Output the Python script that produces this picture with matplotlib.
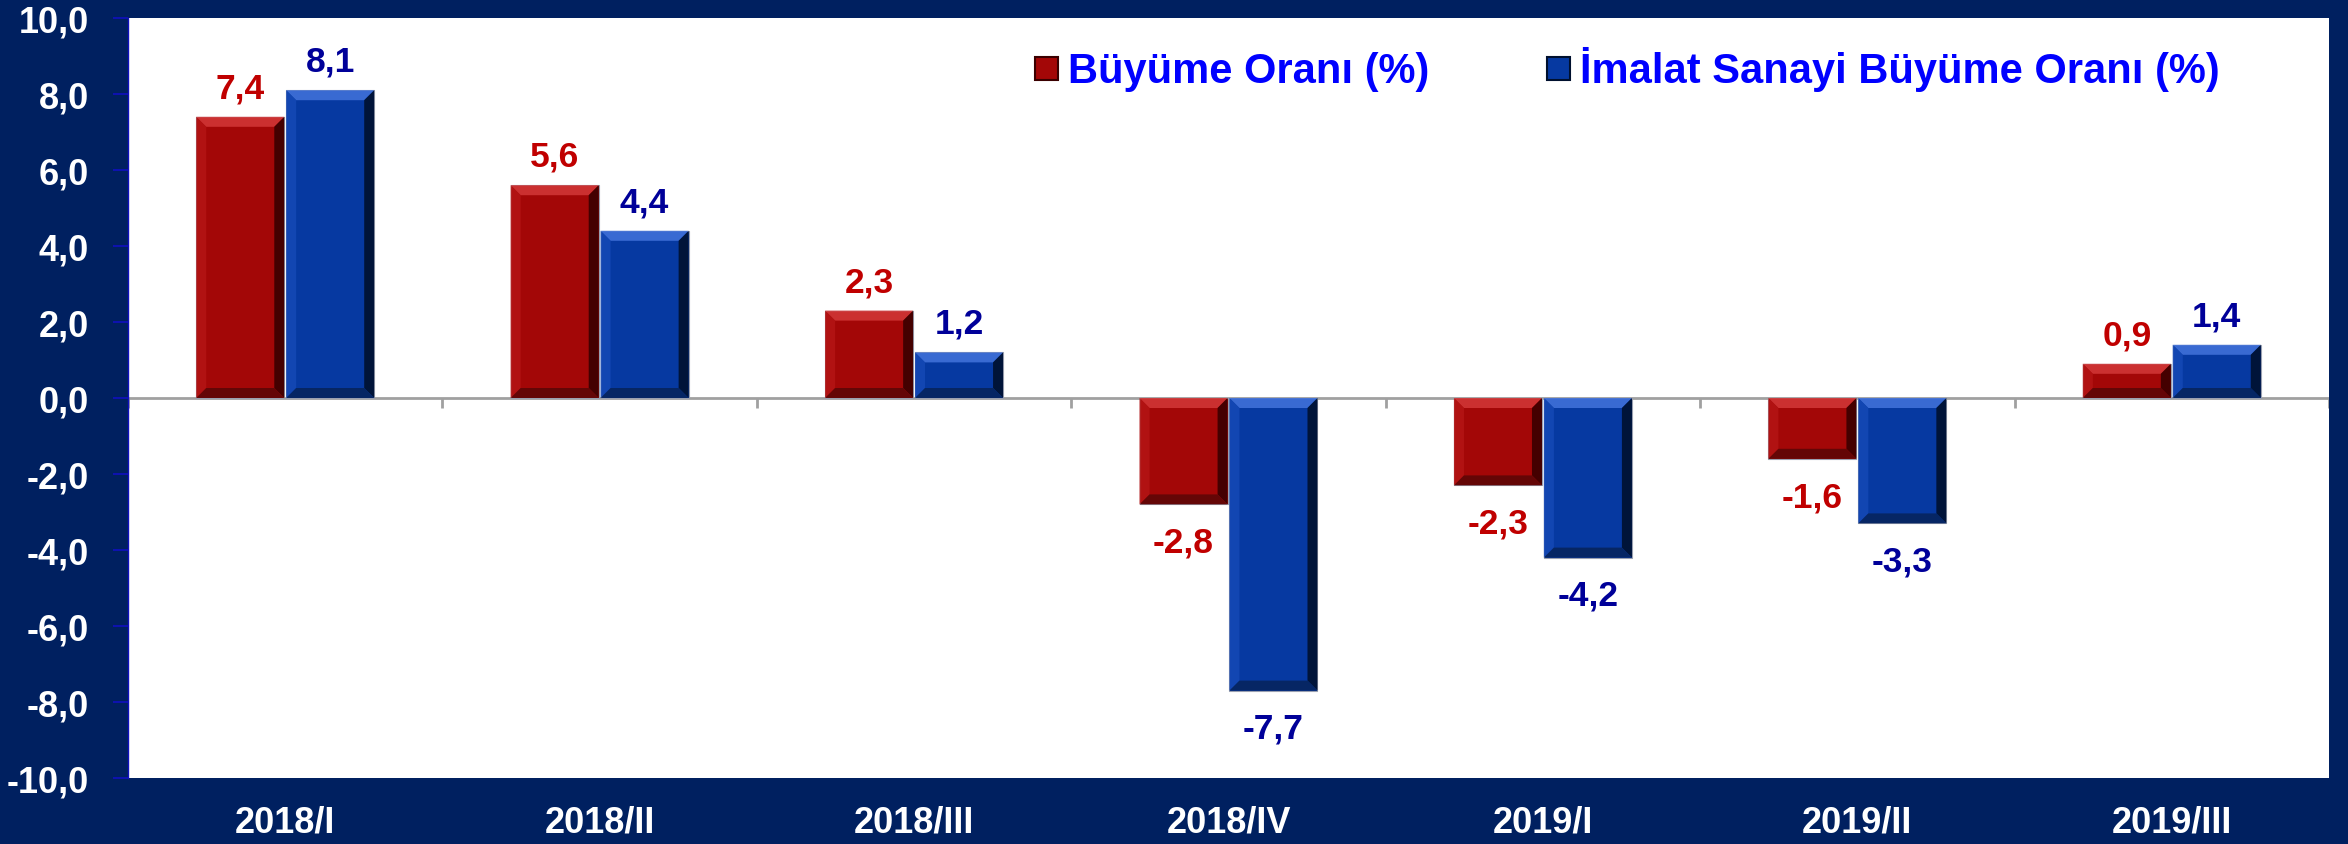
import numpy as np
import matplotlib
matplotlib.use('Agg')
import matplotlib.pyplot as plt
from matplotlib.patches import Polygon, Rectangle

# veriler
donemler = ['2018/I', '2018/II', '2018/III', '2018/IV', '2019/I', '2019/II', '2019/III']
buyume = [7.4, 5.6, 2.3, -2.8, -2.3, -1.6, 0.9]
imalat = [8.1, 4.4, 1.2, -7.7, -4.2, -3.3, 1.4]
seri_adlari = ['Büyüme Oranı (%)', 'İmalat Sanayi Büyüme Oranı (%)']
y_ticks = [-10, -8, -6, -4, -2, 0, 2, 4, 6, 8, 10]

plt.rcParams['font.family'] = ['Liberation Sans', 'DejaVu Sans']
plt.rcParams['font.weight'] = 'bold'

lacivert = '#002060'
# ana renk, ust, sol, sag, alt kenar
kirmizi = ['#a30707', '#d03535', '#b31414', '#3a0000', '#5e0606']
mavi = ['#0639a1', '#3f70d8', '#1448b5', '#00102e', '#07245e']

fig = plt.figure(figsize=(23.48, 8.45), dpi=100, facecolor=lacivert)
ax = fig.add_axes([128/2348, 1-779/845, (2329-128)/2348, (779-19)/845])
ax.set_facecolor('white')
ax.set_xlim(-0.5, len(donemler)-0.5)
ax.set_ylim(-10, 10)

# bir pikselin veri birimi karsiligi (kenar efekti icin)
ax_w = ax.get_position().width * fig.get_figwidth() * fig.dpi
ax_h = ax.get_position().height * fig.get_figheight() * fig.dpi
px_x = (ax.get_xlim()[1] - ax.get_xlim()[0]) / ax_w
px_y = (ax.get_ylim()[1] - ax.get_ylim()[0]) / ax_h
kenar = 10

x = np.arange(len(donemler))
genislik = 0.28
kayma = 0.143


def cubuk_ciz(xc, v, renkler):
    x0, x1 = xc - genislik/2, xc + genislik/2
    yb, yt = min(0, v), max(0, v)
    bx = min(kenar*px_x, genislik/2)
    by = min(kenar*px_y, (yt-yb)/2)
    ax.add_patch(Rectangle((x0, yb), genislik, yt-yb, facecolor=renkler[0],
                           edgecolor='#9aa0b0', linewidth=0.8, zorder=3))
    ust = [(x0, yt), (x1, yt), (x1-bx, yt-by), (x0+bx, yt-by)]
    sol = [(x0, yt), (x0, yb), (x0+bx, yb+by), (x0+bx, yt-by)]
    sag = [(x1, yt), (x1, yb), (x1-bx, yb+by), (x1-bx, yt-by)]
    alt = [(x0, yb), (x1, yb), (x1-bx, yb+by), (x0+bx, yb+by)]
    for pts, r in zip([ust, sol, sag, alt], renkler[1:]):
        ax.add_patch(Polygon(pts, closed=True, facecolor=r, edgecolor='none',
                             alpha=0.9, zorder=4))


for i in range(len(donemler)):
    cubuk_ciz(x[i]-kayma, buyume[i], kirmizi)
    cubuk_ciz(x[i]+kayma, imalat[i], mavi)

# deger etiketleri
for xs, vals, renk in [(x-kayma, buyume, '#c00000'), (x+kayma, imalat, '#000099')]:
    for xi, v in zip(xs, vals):
        off = 14 if v >= 0 else -34
        ax.annotate(f'{v:.1f}'.replace('.', ','), (xi, v), xytext=(0, off),
                    textcoords='offset points', ha='center', va='baseline',
                    fontsize=25.5, fontweight='bold', color=renk, zorder=5)

# sifir cizgisi ve kategori ayirici cizgiler
ax.axhline(0, color='#a0a0a0', linewidth=2, zorder=2)
sinirlar = np.arange(-0.5, len(donemler), 1.0)
ax.vlines(sinirlar, -10*px_y, 0, color='#a0a0a0', linewidth=2, zorder=2)

ax.set_yticks(y_ticks)
ax.set_yticklabels([f'{v:.1f}'.replace('.', ',') for v in y_ticks])
ax.tick_params(axis='y', colors='#1010c0', labelcolor='white', labelsize=26,
               length=11, width=1.2, direction='out', pad=17)
ax.set_xticks(x)
ax.set_xticklabels(donemler)
ax.tick_params(axis='x', length=0, labelcolor='white', labelsize=26, pad=19)
for s in ['top', 'right', 'bottom']:
    ax.spines[s].set_visible(False)
ax.spines['left'].set_color('#1010c0')
ax.spines['left'].set_linewidth(1)

# lejant
for kx, tx, renkler, ad in [(1035, 1068, kirmizi, seri_adlari[0]),
                            (1547, 1580, mavi, seri_adlari[1])]:
    fig.patches.append(Rectangle((kx/2348, 1-81/845), 23/2348, 23/845,
                                 facecolor=renkler[0], edgecolor=renkler[3],
                                 linewidth=1.5, transform=fig.transFigure))
    fig.text(tx/2348, 1-83/845, ad, color='#0000ff', fontsize=30,
             fontweight='bold', ha='left', va='baseline')

fig.savefig('out.png', dpi=100, facecolor=lacivert)
